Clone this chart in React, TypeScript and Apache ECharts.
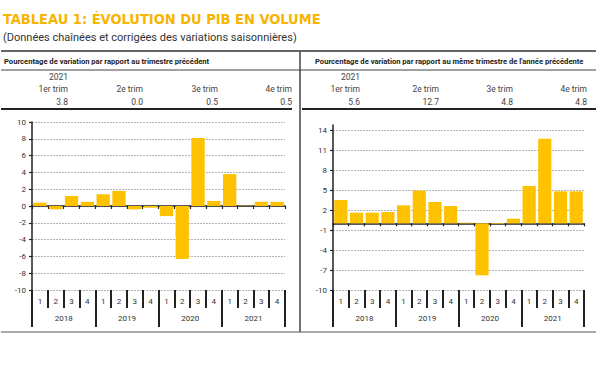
import React, { useEffect, useRef } from 'react';
import * as echarts from 'echarts';

// ---- Data ----
const years = ['2018', '2019', '2020', '2021'];
const quarters = ['1', '2', '3', '4'];
const quarterCats = years.flatMap((y) => quarters.map((q) => `${y}-${q}`));

// Variation par rapport au trimestre précédent (%)
const qoqValues = [0.4, -0.4, 1.2, 0.5, 1.4, 1.8, -0.4, -0.2, -1.2, -6.3, 8.1, 0.6, 3.8, 0.04, 0.5, 0.5];
// Variation par rapport au même trimestre de l'année précédente (%)
const yoyValues = [3.5, 1.6, 1.6, 1.7, 2.7, 4.9, 3.2, 2.6, 0.1, -7.8, -0.1, 0.7, 5.6, 12.7, 4.8, 4.8];

const qoqTicks = [-10, -8, -6, -4, -2, 0, 2, 4, 6, 8, 10];
const yoyTicks = [-10, -7, -4, -1, 2, 5, 8, 11, 14];

const tableYear = '2021';
const tableQuarters = ['1er trim', '2e trim', '3e trim', '4e trim'];
const qoqTable = qoqValues.slice(12).map((v) => v.toFixed(1));
const yoyTable = yoyValues.slice(12).map((v) => v.toFixed(1));

const titleText = 'TABLEAU 1: ÉVOLUTION DU PIB EN VOLUME';
const subtitleText = '(Données chaînées et corrigées des variations saisonnières)';
const leftHeader = 'Pourcentage de variation par rapport au trimestre précédent';
const rightHeader = "Pourcentage de variation par rapport au même trimestre de l'année précédente";

// ---- Styles ----
const FONT = "Roboto, 'Liberation Sans', sans-serif";
const NARROW = "'Liberation Sans Narrow', 'DejaVu Sans Condensed', Roboto, sans-serif";
const BAR = '#FFC200';
const DARK = '#222';
const LABEL = '#333';

function xAxesFor(gi: number) {
  return [
    {
      gridIndex: gi,
      type: 'category',
      data: quarterCats,
      position: 'bottom',
      axisLine: { show: true, onZero: true, lineStyle: { color: DARK, width: 1.5 } },
      axisTick: { show: true, length: 3, interval: 0, lineStyle: { color: DARK, width: 1.2 } },
      axisLabel: { show: false },
      splitLine: { show: false },
      z: 1,
    },
    {
      gridIndex: gi,
      type: 'category',
      data: quarterCats,
      position: 'bottom',
      axisLine: { show: false, onZero: false },
      axisTick: { show: true, length: 18, interval: 0, lineStyle: { color: DARK, width: 2 } },
      axisLabel: {
        interval: 0,
        margin: 7,
        fontSize: 8,
        color: LABEL,
        fontFamily: FONT,
        formatter: (v: string) => v.split('-')[1],
      },
      splitLine: { show: false },
    },
    {
      gridIndex: gi,
      type: 'category',
      data: years,
      position: 'bottom',
      axisLine: { show: false, onZero: false },
      axisTick: { show: true, length: 37, lineStyle: { color: DARK, width: 2 } },
      axisLabel: { margin: 24, fontSize: 8, color: LABEL, fontFamily: FONT },
      splitLine: { show: false },
    },
  ];
}

function yAxisFor(gi: number, min: number, max: number, ticks: number[], extra: any) {
  return {
    gridIndex: gi,
    type: 'value',
    min,
    max,
    ...extra,
    axisLine: { show: true, lineStyle: { color: DARK, width: 1.5 } },
    axisTick: { show: true, length: 3, lineStyle: { color: DARK, width: 1.2 }, customValues: ticks },
    axisLabel: { fontSize: 8, color: LABEL, fontFamily: FONT, margin: 6, customValues: ticks },
    splitLine: { show: true, lineStyle: { color: '#b5b5b5', type: [2, 1], width: 1 } },
  };
}

function txt(text: string, x: number, y: number, opts: any = {}) {
  return {
    type: 'text',
    x,
    y,
    silent: true,
    style: {
      text,
      fill: opts.fill || '#444',
      fontSize: opts.fontSize || 8.5,
      fontWeight: opts.fontWeight || 'normal',
      fontFamily: opts.fontFamily || FONT,
      align: opts.align || 'left',
      verticalAlign: 'middle',
    },
  };
}

function ln(x1: number, y1: number, x2: number, y2: number, stroke: string, lineWidth: number) {
  return { type: 'line', silent: true, shape: { x1, y1, x2, y2 }, style: { stroke, lineWidth } };
}

export default function App() {
  const ref = useRef<HTMLDivElement>(null);
  useEffect(() => {
    if (!ref.current) return;
    const chart = echarts.init(ref.current, undefined, { renderer: 'svg' });

    const leftCols = [68, 143, 218, 292];
    const rightCols = [360, 439, 513, 587];

    const graphics: any[] = [
      txt(titleText, 3, 19, { fill: '#F7B500', fontSize: 14.5, fontWeight: 'bold', fontFamily: NARROW }),
      txt(subtitleText, 3, 37, { fill: '#333', fontSize: 11, fontFamily: FONT }),
      ln(1, 51, 596, 51, '#333', 1.5),
      ln(1, 70, 596, 70, '#444', 1),
      ln(1, 109, 292, 109, DARK, 2),
      ln(302, 109, 596, 109, DARK, 2),
      ln(300, 51, 300, 332, '#444', 1.5),
      ln(1, 332, 596, 332, '#555', 1),
      txt(leftHeader, 4, 61, { fill: DARK, fontSize: 7.6, fontWeight: 'bold' }),
      txt(rightHeader, 315, 61, { fill: DARK, fontSize: 7.6, fontWeight: 'bold' }),
      txt(tableYear, leftCols[0], 77, { align: 'right' }),
      txt(tableYear, rightCols[0], 77, { align: 'right' }),
    ];
    tableQuarters.forEach((q, i) => {
      graphics.push(txt(q, leftCols[i], 89, { align: 'right' }));
      graphics.push(txt(qoqTable[i], leftCols[i], 101.5, { align: 'right' }));
      graphics.push(txt(q, rightCols[i], 89, { align: 'right' }));
      graphics.push(txt(yoyTable[i], rightCols[i], 101.5, { align: 'right' }));
    });

    chart.setOption({
      animation: false,
      backgroundColor: '#fff',
      grid: [
        { left: 32, right: 315, top: 122, bottom: 75, outerBoundsMode: 'none', containLabel: false },
        { left: 333, right: 16, top: 125, bottom: 75, outerBoundsMode: 'none', containLabel: false },
      ],
      xAxis: [...xAxesFor(0), ...xAxesFor(1)],
      yAxis: [
        yAxisFor(0, -10, 10, qoqTicks, { interval: 2 }),
        yAxisFor(1, -10, 14.75, yoyTicks, {}),
      ],
      series: [
        {
          type: 'bar',
          xAxisIndex: 0,
          yAxisIndex: 0,
          data: qoqValues,
          barCategoryGap: '16%',
          itemStyle: { color: BAR },
        },
        {
          type: 'bar',
          xAxisIndex: 3,
          yAxisIndex: 1,
          data: yoyValues,
          barCategoryGap: '16%',
          itemStyle: { color: BAR },
        },
      ],
      graphic: graphics,
    });
    return () => chart.dispose();
  }, []);

  return (
    <div
      ref={ref}
      style={{ position: 'absolute', left: 0, top: 0, width: 600, height: 365, background: '#fff' }}
    />
  );
}
